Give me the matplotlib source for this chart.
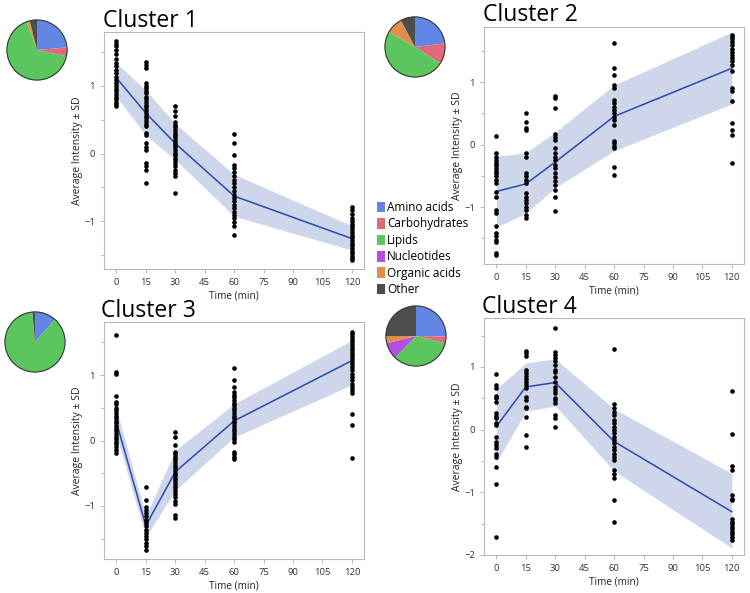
import matplotlib
matplotlib.use("Agg")
import matplotlib.pyplot as plt
from matplotlib.patches import Patch, Circle
from matplotlib.ticker import MultipleLocator
import numpy as np

plt.rcParams['font.family'] = ['Open Sans', 'DejaVu Sans']

times = [0, 15, 30, 60, 120]
xticks = [0, 15, 30, 45, 60, 75, 90, 105, 120]

classes = ['Amino acids', 'Carbohydrates', 'Lipids', 'Nucleotides', 'Organic acids', 'Other']
class_colors = ['#6286e4', '#e06a7a', '#5cc65e', '#b24fe0', '#e08f4a', '#4d4d4d']

# pie shares (degrees)
pie1 = [85, 17, 238, 0, 6, 14]
pie2 = [83, 40, 177, 0, 32, 28]
pie3 = [42, 0, 313, 0, 0, 5]
pie4 = [91, 13, 120, 32, 14, 90]

# mean and +/- SD per time point
c1_mean = [1.12, 0.60, 0.15, -0.63, -1.26]
c1_up = [1.34, 0.94, 0.44, -0.31, -1.07]
c1_lo = [0.84, 0.27, -0.09, -0.93, -1.43]
c2_mean = [-0.75, -0.63, -0.28, 0.45, 1.22]
c2_up = [-0.19, -0.13, 0.20, 0.95, 1.80]
c2_lo = [-1.32, -1.10, -0.69, -0.10, 0.65]
c3_mean = [0.28, -1.30, -0.48, 0.30, 1.22]
c3_up = [0.48, -1.15, -0.15, 0.56, 1.53]
c3_lo = [0.08, -1.47, -0.76, 0.05, 0.85]
c4_mean = [0.05, 0.68, 0.75, -0.19, -1.31]
c4_up = [0.65, 1.06, 1.13, 0.33, -0.70]
c4_lo = [-0.52, 0.29, 0.38, -0.66, -1.89]

# individual metabolites, one list per time point
c1_pts = [
    [1.66, 1.62, 1.59, 1.54, 1.47, 1.40, 1.34, 1.29, 1.24, 1.19, 1.14, 1.09, 1.04, 1.00,
     0.95, 0.92, 0.88, 0.84, 0.80, 0.77, 0.74, 0.70],
    [1.35, 1.31, 1.27, 1.04, 1.00, 0.97, 0.93, 0.89, 0.84, 0.80, 0.77, 0.72, 0.69, 0.65,
     0.60, 0.56, 0.53, 0.48, 0.44, 0.41, 0.30, 0.28, 0.15, 0.10, 0.05, -0.14, -0.19, -0.24, -0.44],
    [0.71, 0.63, 0.55, 0.46, 0.42, 0.39, 0.35, 0.31, 0.28, 0.24, 0.20, 0.16, 0.13, 0.09,
     0.05, 0.01, -0.02, -0.06, -0.09, -0.14, -0.19, -0.24, -0.29, -0.33, -0.59],
    [0.29, 0.15, -0.02, -0.17, -0.22, -0.27, -0.34, -0.39, -0.44, -0.49, -0.56, -0.61, -0.66,
     -0.71, -0.76, -0.81, -0.86, -0.91, -0.96, -1.01, -1.07, -1.20],
    [-0.79, -0.84, -0.90, -0.95, -1.00, -1.04, -1.08, -1.12, -1.16, -1.20, -1.24, -1.28, -1.32,
     -1.36, -1.40, -1.44, -1.48, -1.52, -1.55, -1.58],
]
c2_pts = [
    [0.14, -0.14, -0.20, -0.24, -0.29, -0.33, -0.37, -0.42, -0.46, -0.50, -0.56, -0.61, -0.76,
     -0.84, -1.05, -1.09, -1.31, -1.42, -1.47, -1.52, -1.56, -1.73, -1.77],
    [0.50, 0.36, 0.27, 0.23, -0.13, -0.20, -0.46, -0.51, -0.56, -0.61, -0.78, -0.84, -0.89,
     -0.94, -1.00, -1.05, -1.13, -1.18],
    [0.78, 0.75, 0.58, 0.17, 0.12, 0.08, -0.06, -0.13, -0.20, -0.25, -0.33, -0.38, -0.46,
     -0.52, -0.59, -0.65, -0.72, -0.84, -1.06],
    [1.62, 1.22, 1.12, 0.95, 0.90, 0.71, 0.66, 0.60, 0.55, 0.50, 0.44, 0.39, 0.31, 0.06,
     0.02, -0.03, -0.06, -0.36, -0.49],
    [1.75, 1.72, 1.68, 1.64, 1.59, 1.53, 1.48, 1.43, 1.38, 1.33, 1.28, 1.17, 0.91, 0.86,
     0.69, 0.35, 0.23, 0.16, -0.29],
]
c3_pts = [
    [1.61, 1.05, 1.01, 0.68, 0.59, 0.55, 0.50, 0.46, 0.42, 0.38, 0.34, 0.30, 0.26, 0.22,
     0.18, 0.14, 0.10, 0.06, 0.02, -0.02, -0.06, -0.10, -0.14, -0.19],
    [-0.71, -0.91, -1.01, -1.06, -1.11, -1.16, -1.21, -1.26, -1.31, -1.36, -1.41, -1.46,
     -1.51, -1.56, -1.61, -1.67],
    [0.13, 0.06, -0.07, -0.17, -0.21, -0.25, -0.29, -0.33, -0.37, -0.41, -0.45, -0.49, -0.53,
     -0.57, -0.61, -0.65, -0.69, -0.73, -0.77, -0.82, -0.86, -0.92, -0.97, -1.14, -1.19],
    [1.11, 0.93, 0.82, 0.74, 0.70, 0.66, 0.62, 0.58, 0.54, 0.50, 0.46, 0.42, 0.38, 0.34,
     0.30, 0.26, 0.22, 0.18, 0.14, 0.10, 0.06, 0.02, -0.02, -0.17, -0.21, -0.25, -0.28],
    [1.66, 1.62, 1.58, 1.54, 1.50, 1.46, 1.42, 1.38, 1.34, 1.30, 1.26, 1.22, 1.17, 1.12,
     1.07, 1.02, 0.97, 0.92, 0.87, 0.82, 0.77, 0.72, 0.40, 0.24, -0.27],
]
c4_pts = [
    [0.88, 0.71, 0.67, 0.53, 0.50, 0.44, 0.26, 0.22, 0.18, 0.11, 0.07, -0.12, -0.20, -0.25,
     -0.29, -0.39, -0.44, -0.60, -0.87, -1.71],
    [1.26, 1.22, 1.18, 0.95, 0.90, 0.86, 0.80, 0.76, 0.71, 0.66, 0.52, 0.47, 0.36, 0.34,
     0.20, -0.08, -0.27],
    [1.62, 1.23, 1.19, 1.14, 1.09, 1.03, 0.95, 0.92, 0.84, 0.76, 0.68, 0.63, 0.58, 0.51,
     0.47, 0.42, 0.23, 0.19, 0.04],
    [1.29, 0.40, 0.34, 0.28, 0.23, 0.16, 0.10, 0.04, -0.01, -0.06, -0.12, -0.17, -0.22,
     -0.28, -0.33, -0.39, -0.44, -0.49, -0.65, -0.71, -0.77, -1.13, -1.48],
    [0.61, -0.07, -0.58, -0.65, -1.05, -1.11, -1.13, -1.43, -1.47, -1.51, -1.55, -1.59,
     -1.63, -1.67, -1.71, -1.76],
]

band_color = '#cdd6ea'
line_color = '#2a4ab0'
frame_color = '#b8b8b8'

fig = plt.figure(figsize=(7.5, 5.93), dpi=100)

panels = [
    ('Cluster 1', c1_pts, c1_mean, c1_up, c1_lo, pie1, [0.1387, 0.5464, 0.3467, 0.3997], (-1.71, 1.80),
     [0.008, 0.8634], (103, 27)),
    ('Cluster 2', c2_pts, c2_mean, c2_up, c2_lo, pie2, [0.6453, 0.5548, 0.3467, 0.3997], (-1.91, 1.88),
     [0.512, 0.8685], (483, 21)),
    ('Cluster 3', c3_pts, c3_mean, c3_up, c3_lo, pie3, [0.1387, 0.0573, 0.3467, 0.3997], (-1.81, 1.81),
     [0.0053, 0.371], (101, 317)),
    ('Cluster 4', c4_pts, c4_mean, c4_up, c4_lo, pie4, [0.6453, 0.0641, 0.3467, 0.3997], (-2.0, 1.78),
     [0.5133, 0.3811], (482, 313)),
]

for title, pts, mean, up, lo, pie, rect, ylim, pie_pos, title_px in panels:
    ax = fig.add_axes(rect)
    ax.fill_between(times, lo, up, color=band_color, lw=0, zorder=1)
    ax.plot(times, mean, color=line_color, lw=1.1, zorder=2)
    for t, vals in zip(times, pts):
        ax.scatter([t] * len(vals), vals, s=11, color='black', lw=0, zorder=3)
    ax.set_xlim(-6.3, 126.2)
    ax.set_ylim(*ylim)
    ax.set_xticks(xticks)
    ax.yaxis.set_major_locator(MultipleLocator(1))
    ax.yaxis.set_minor_locator(MultipleLocator(0.5))
    for s in ax.spines.values():
        s.set_color(frame_color)
        s.set_linewidth(0.8)
    ax.tick_params(axis='both', which='both', colors=frame_color, labelcolor='#333333',
                   labelsize=6.8, length=3, width=0.7)
    ax.tick_params(axis='y', which='minor', length=2)
    ax.set_xlabel('Time (min)', fontsize=7.2, color='#222222', labelpad=2.5)
    ax.set_ylabel('Average Intensity ± SD', fontsize=7.5, color='#222222', labelpad=0.5)

    fig.text(title_px[0] / 750, 1 - title_px[1] / 593, title, fontsize=16.5, va='baseline',
             ha='left', color='black')

    pax = fig.add_axes([pie_pos[0], pie_pos[1], 62 / 750, 62 / 593])
    pax.pie(pie, colors=class_colors, startangle=90, counterclock=False,
            wedgeprops=dict(lw=0))
    pax.add_patch(Circle((0, 0), 1, fill=False, ec='#333333', lw=0.8))
    pax.set_aspect('equal')
    pax.set_xlim(-1.03, 1.03)
    pax.set_ylim(-1.03, 1.03)
    pax.axis('off')

handles = [Patch(facecolor=c, edgecolor='none') for c in class_colors]
fig.legend(handles, classes, loc='upper left', bbox_to_anchor=(377 / 750, 1 - 201 / 593),
           frameon=False, fontsize=8.5, handlelength=0.65, handleheight=1.0,
           handletextpad=0.2, labelspacing=0.29, borderpad=0, borderaxespad=0)

fig.savefig('out.png', dpi=100)
